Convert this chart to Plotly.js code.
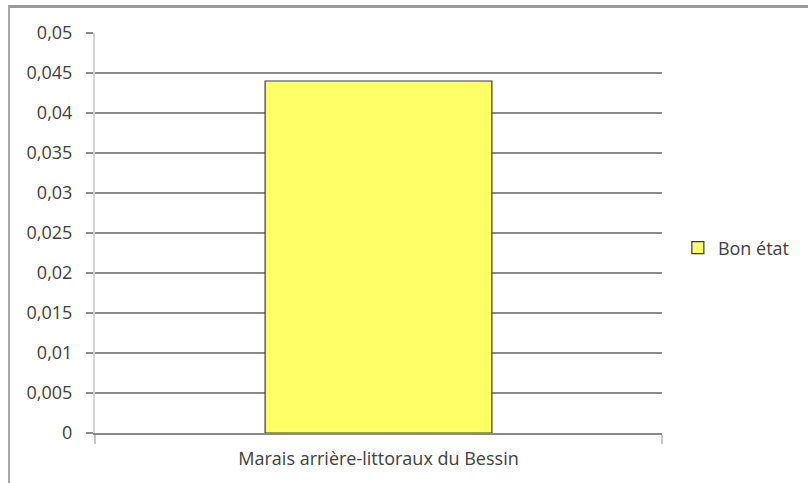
<!DOCTYPE html>
<html>
<head>
<meta charset="utf-8">
<script src="https://cdn.plot.ly/plotly-3.0.1.min.js"></script>
<style>
  html, body { margin: 0; padding: 0; background: #ffffff; overflow: hidden; }
  #frame { position: absolute; left: 8px; top: 5px; width: 900px; height: 600px;
           border-top: 3px solid #9a9a9a; border-left: 2px solid #a8a8a8; box-sizing: border-box; }
  #chart { position: absolute; left: 0; top: 0; width: 808px; height: 483px; }
</style>
</head>
<body>
<div id="frame"></div>
<div id="chart"></div>
<script>
const categories = ["Marais arrière-littoraux du Bessin"];
const seriesName = "Bon état";
const seriesValues = [0.044];

const trace = {
  type: 'bar',
  x: categories,
  y: seriesValues,
  name: seriesName,
  width: 0.4,
  marker: { color: '#ffff66', line: { color: '#3a3a3a', width: 1.2 } },
  showlegend: true,
  hoverinfo: 'none'
};

const layout = {
  width: 808, height: 483,
  margin: { l: 95, r: 146, t: 33, b: 50, pad: 0 },
  paper_bgcolor: 'rgba(0,0,0,0)',
  plot_bgcolor: 'rgba(0,0,0,0)',
  separators: ', ',
  font: { family: 'Open Sans, sans-serif', size: 18, color: '#404040' },
  showlegend: true,
  legend: {
    x: 1.028, xanchor: 'left', y: 0.4625, yanchor: 'middle',
    font: { size: 18, color: '#404040' },
    itemwidth: 30, bgcolor: 'rgba(0,0,0,0)'
  },
  xaxis: {
    type: 'category',
    range: [-0.5, 0.5],
    showline: true, linecolor: '#8a8a8a', linewidth: 2,
    ticks: 'outside', tickson: 'boundaries', ticklen: 9, tickcolor: '#c8c8c8', tickwidth: 2,
    ticklabelstandoff: 8,
    showgrid: false, zeroline: false,
    tickfont: { size: 18, color: '#404040' }
  },
  yaxis: {
    range: [0, 0.05],
    dtick: 0.005, tick0: 0,
    showgrid: true, gridcolor: '#8a8a8a', gridwidth: 2,
    showline: true, linecolor: '#d4d4d4', linewidth: 2,
    ticks: 'outside', ticklen: 7, tickcolor: '#8a8a8a', tickwidth: 2,
    ticklabelstandoff: 10,
    zeroline: false,
    tickfont: { size: 18, color: '#404040' }
  }
};

Plotly.newPlot('chart', [trace], layout, { staticPlot: true, displayModeBar: false });
</script>
</body>
</html>
